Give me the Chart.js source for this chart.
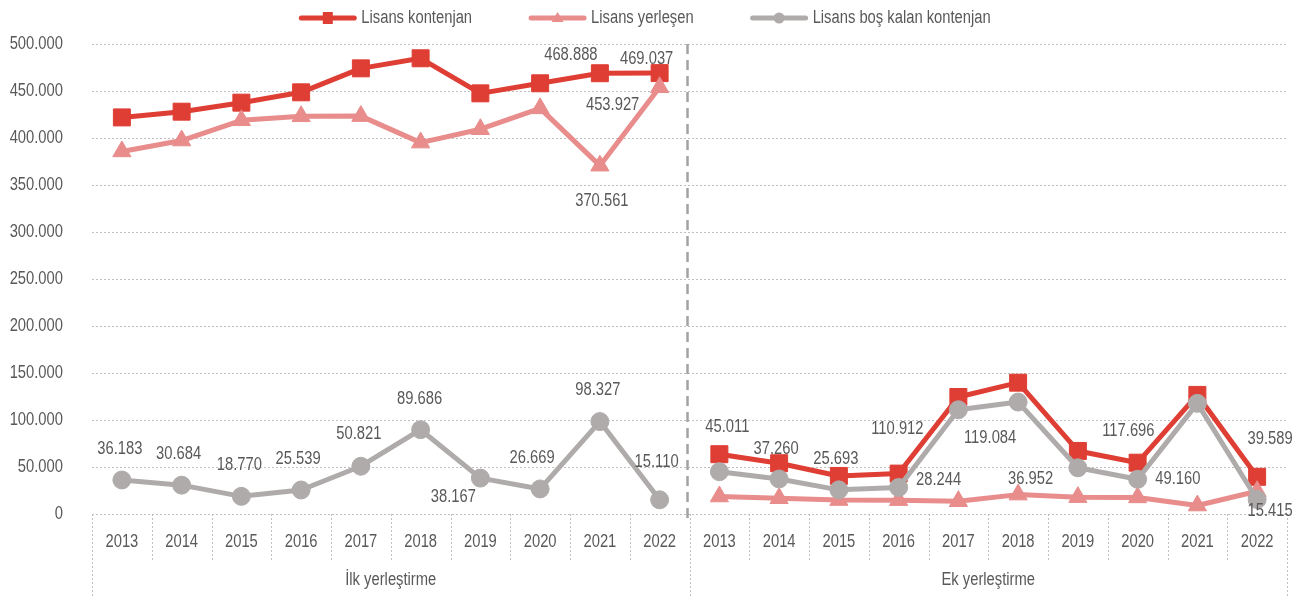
<!DOCTYPE html>
<html>
<head>
<meta charset="utf-8">
<script src="https://cdn.jsdelivr.net/npm/chart.js@4.4.1/dist/chart.umd.min.js"></script>
<style>
  html, body { margin: 0; padding: 0; background: #ffffff; }
  #wrap { position: relative; width: 1304px; height: 596px; }
</style>
</head>
<body>
<div id="wrap"><canvas id="c"></canvas></div>
<script>
// ---- data ----
const years = ['2013', '2014', '2015', '2016', '2017', '2018', '2019', '2020', '2021', '2022'];
const groupNames = ['İlk yerleştirme', 'Ek yerleştirme'];
const seriesNames = ['Lisans kontenjan', 'Lisans yerleşen', 'Lisans boş kalan kontenjan'];

const ilkKontenjan = [421900, 428000, 437600, 448600, 474100, 484800, 447500, 458200, 468888, 469037];
const ilkYerlesen  = [385717, 397316, 418830, 423061, 423279, 395114, 409333, 431531, 370561, 453927];
const ilkBos       = [36183, 30684, 18770, 25539, 50821, 89686, 38167, 26669, 98327, 15110];

const ekKontenjan  = [63600, 54000, 40500, 43000, 124500, 139700, 67100, 54600, 126700, 39589];
const ekYerlesen   = [18589, 16740, 14807, 14756, 13588, 20616, 17940, 17648, 9004, 24174];
const ekBos        = [45011, 37260, 25693, 28244, 110912, 119084, 49160, 36952, 117696, 15415];

const yTicks = [0, 50000, 100000, 150000, 200000, 250000, 300000, 350000, 400000, 450000, 500000];

// ---- styles ----
const FONT = "'Liberation Sans', Arial, sans-serif";
const NARROW = 0.82; // horizontal squeeze to imitate a narrow face
const TEXT = '#595959';
const GRID = '#BFBFBF';
const colors = ['#DF3E34', '#E88C8C', '#AFABAB'];
const markers = ['rect', 'triangle', 'circle'];

// label placements: [seriesIndex, pointIndex, dx, dy]
const labelSpots = [
  [0, 8, -29, -18], [0, 9, -13, -14], [0, 19, 13, -38],
  [1, 8, 2, 35], [1, 9, -47, 18],
  [2, 0, -2, -31], [2, 1, -3, -31], [2, 2, -2, -31], [2, 3, -3, -31], [2, 4, -2, -32],
  [2, 5, -1, -31], [2, 6, -27, 19], [2, 7, -8, -31], [2, 8, -2, -32], [2, 9, -3, -38],
  [2, 10, 8, -45], [2, 11, -3, -30], [2, 12, -3, -31], [2, 13, 40, -7], [2, 14, -61, 19],
  [2, 15, -28, 36], [2, 16, 100, 11], [2, 17, -107, 0], [2, 18, -69, 28], [2, 19, 13, 12]
];

function fmt(v) {
  return String(Math.round(v)).replace(/\B(?=(\d{3})+(?!\d))/g, '.');
}

const labels = years.concat(years);
const seriesData = [
  ilkKontenjan.concat(ekKontenjan),
  ilkYerlesen.concat(ekYerlesen),
  ilkBos.concat(ekBos)
];

const datasets = seriesData.map((d, i) => ({
  label: seriesNames[i],
  data: d,
  borderColor: colors[i],
  backgroundColor: colors[i],
  pointBackgroundColor: colors[i],
  pointBorderColor: colors[i],
  pointBorderWidth: 1,
  borderWidth: 5,
  pointStyle: markers[i],
  pointRadius: [12, 10.5, 9][i],
  pointHoverRadius: [12, 10.5, 9][i],
  borderCapStyle: 'round',
  borderJoinStyle: 'round',
  tension: 0,
  order: 3 - i,
  segment: {
    borderColor: ctx => (ctx.p0DataIndex === years.length - 1 ? 'rgba(0,0,0,0)' : undefined)
  }
}));

function boundary(xs, i) {
  const w = (xs.right - xs.left) / labels.length;
  return xs.left + i * w;
}

const decor = {
  id: 'decor',
  afterDraw(chart) {
    const ctx = chart.ctx;
    const xs = chart.scales.x;
    const area = chart.chartArea;
    ctx.save();
    // category separators below axis
    ctx.strokeStyle = GRID;
    ctx.lineWidth = 1;
    ctx.setLineDash([2, 2]);
    for (let i = 0; i <= labels.length; i++) {
      const x = Math.round(boundary(xs, i)) + 0.5;
      const long = (i % years.length === 0);
      ctx.beginPath();
      ctx.moveTo(x, area.bottom);
      ctx.lineTo(x, long ? 596 : 560);
      ctx.stroke();
    }
    // dashed divider between groups
    ctx.strokeStyle = '#A3A3A3';
    ctx.lineWidth = 2.5;
    ctx.setLineDash([10, 6]);
    const dx = boundary(xs, years.length) - 2;
    ctx.beginPath();
    ctx.moveTo(dx, area.top);
    ctx.lineTo(dx, area.bottom + 9);
    ctx.stroke();
    ctx.setLineDash([]);
    // group labels
    ctx.fillStyle = TEXT;
    ctx.font = '18px ' + FONT;
    ctx.textAlign = 'center';
    ctx.textBaseline = 'middle';
    groupNames.forEach((g, gi) => {
      const x0 = boundary(xs, gi * years.length);
      const x1 = boundary(xs, (gi + 1) * years.length);
      ctx.fillText(g, (x0 + x1) / 2, 580);
    });
    // data labels
    labelSpots.forEach(([s, i, ox, oy]) => {
      const meta = chart.getDatasetMeta(s);
      const pt = meta.data[i];
      ctx.fillText(fmt(seriesData[s][i]), pt.x + ox, pt.y + oy);
    });
    // legend
    ctx.textAlign = 'left';
    const lineLen = 57, gapText = 5, gapItem = 57;
    const widths = seriesNames.map(n => ctx.measureText(n).width * NARROW);
    const total = widths.reduce((a, b) => a + b, 0) + 3 * (lineLen + gapText) + 2 * gapItem;
    let x = 645 - total / 2;
    const y = 18;
    seriesNames.forEach((n, i) => {
      ctx.strokeStyle = colors[i];
      ctx.fillStyle = colors[i];
      ctx.lineWidth = 5;
      ctx.lineCap = 'round';
      ctx.beginPath();
      ctx.moveTo(x + 2, y);
      ctx.lineTo(x + lineLen - 2, y);
      ctx.stroke();
      const cx = x + lineLen / 2;
      ctx.beginPath();
      if (markers[i] === 'rect') {
        ctx.rect(cx - 5, y - 6, 10, 12);
      } else if (markers[i] === 'triangle') {
        ctx.moveTo(cx, y - 6);
        ctx.lineTo(cx + 6, y + 4);
        ctx.lineTo(cx - 6, y + 4);
        ctx.closePath();
      } else {
        ctx.arc(cx, y, 5.5, 0, Math.PI * 2);
      }
      ctx.fill();
      ctx.fillStyle = TEXT;
      ctx.fillText(n, x + lineLen + gapText, y);
      x += lineLen + gapText + widths[i] + gapItem;
    });
    ctx.restore();
  }
};

// squeeze all text horizontally around its anchor (narrow face look)
const canvas = document.getElementById('c');
const c2d = canvas.getContext('2d');
const rawFill = c2d.fillText;
c2d.fillText = function (text, x, y, maxW) {
  this.save();
  this.translate(x, y);
  this.scale(NARROW, 1);
  if (maxW === undefined) rawFill.call(this, text, 0, 0);
  else rawFill.call(this, text, 0, 0, maxW / NARROW);
  this.restore();
};

new Chart(canvas, {
  type: 'line',
  data: { labels, datasets },
  plugins: [decor],
  options: {
    responsive: true,
    maintainAspectRatio: false,
    animation: false,
    devicePixelRatio: 1,
    layout: { padding: { top: 44, right: 17, left: 0, bottom: 0 } },
    plugins: { legend: { display: false }, tooltip: { enabled: false } },
    scales: {
      x: {
        type: 'category',
        offset: true,
        grid: { display: false, drawTicks: false },
        border: { display: false },
        ticks: {
          color: TEXT,
          font: { family: FONT, size: 18 },
          padding: 17,
          maxRotation: 0,
          autoSkip: false
        },
        afterFit(scale) { scale.height = 82; }
      },
      y: {
        min: 0,
        max: 500000,
        afterBuildTicks(scale) { scale.ticks = yTicks.map(v => ({ value: v })); },
        grid: { color: GRID, lineWidth: 1, drawTicks: false },
        border: { display: false, dash: [2, 2] },
        ticks: {
          color: TEXT,
          font: { family: FONT, size: 18 },
          padding: 29,
          callback: v => fmt(v)
        },
        afterFit(scale) { scale.width = 92; }
      }
    }
  }
});
</script>
</body>
</html>
